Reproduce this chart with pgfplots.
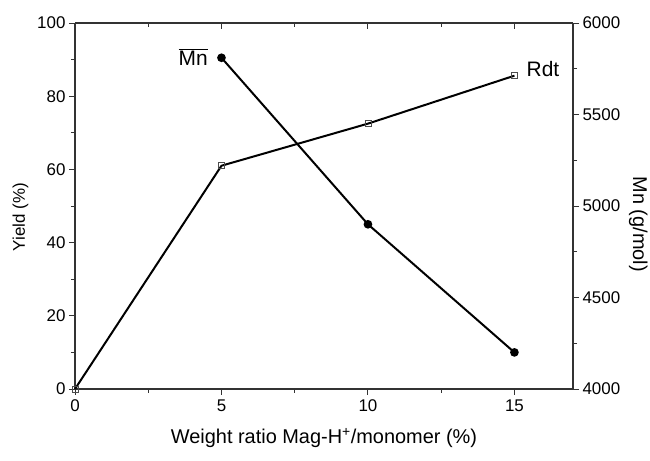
\documentclass[border=0pt]{standalone}
\usepackage{pgfplots}
\pgfplotsset{compat=1.18}
\usepackage{fontspec}
\setmainfont{Liberation Sans}
\begin{document}
\begin{tikzpicture}[x=1bp,y=1bp]
\pgfplotsset{every axis/.style={
  width=498bp, height=366bp, scale only axis,
  xmin=0, xmax=17,
  /pgf/number format/assume math mode=true,
  /pgf/number format/1000 sep={},
  tick label style={font=\fontsize{17}{20}\selectfont},
  axis line style={line width=1.1pt, black!80},
  major tick length=6bp, minor tick length=4bp,
  every tick/.style={black!80, line width=0.9pt},
}}
\path[use as bounding box] (-75,-72) rectangle (575,389);
\begin{axis}[
  axis y line*=left,
  axis x line*=bottom,
  ymin=0, ymax=100,
  xtick={0,5,10,15}, minor xtick={2.5,7.5,12.5},
  ytick={0,20,40,60,80,100}, minor ytick={10,30,50,70,90},
  tick align=outside,
  xlabel={\fontsize{20}{23}\selectfont Weight ratio Mag-H\textsuperscript{+}/monomer (\%)},
  ylabel={Yield (\%)},
  xlabel style={yshift=-10bp},
  ylabel style={font=\fontsize{17}{20}\selectfont, at={(ticklabel cs:0.47)}, yshift=2bp},
  xticklabel style={yshift=-1bp},
  clip=false,
]
\addplot[black, line width=2pt, mark=square, mark size=3pt, mark options={fill=white, line width=0.6pt, black!70}]
  coordinates {(0,0) (5,61) (10,72.5) (15,85.6)};
\node[font=\fontsize{21}{24}\selectfont, anchor=west] at (axis cs:15.3,87.5) {Rdt};
\end{axis}
\begin{axis}[
  axis y line=none,
  axis x line*=top,
  ymin=0, ymax=100,
  xtick={0,5,10,15}, minor xtick={2.5,7.5,12.5},
  xticklabels={},
  tick align=inside,
]
\end{axis}
\begin{axis}[
  axis y line*=right,
  axis x line=none,
  ymin=4000, ymax=6000,
  ytick={4000,4500,5000,5500,6000}, minor ytick={4250,4750,5250,5750},
  tick align=outside,
  ylabel={\fontsize{20}{23}\selectfont Mn (g/mol)},
  ylabel style={rotate=180, at={(ticklabel cs:0.45)}, yshift=2bp},
  clip=false,
]
\addplot[black, line width=2pt, mark=*, mark size=3.3pt]
  coordinates {(5,5810) (10,4900) (15,4200)};
\node[font=\fontsize{21}{24}\selectfont, anchor=east] at (axis cs:4.65,5815) {$\overline{\mbox{Mn}}$};
\end{axis}
\end{tikzpicture}
\end{document}
